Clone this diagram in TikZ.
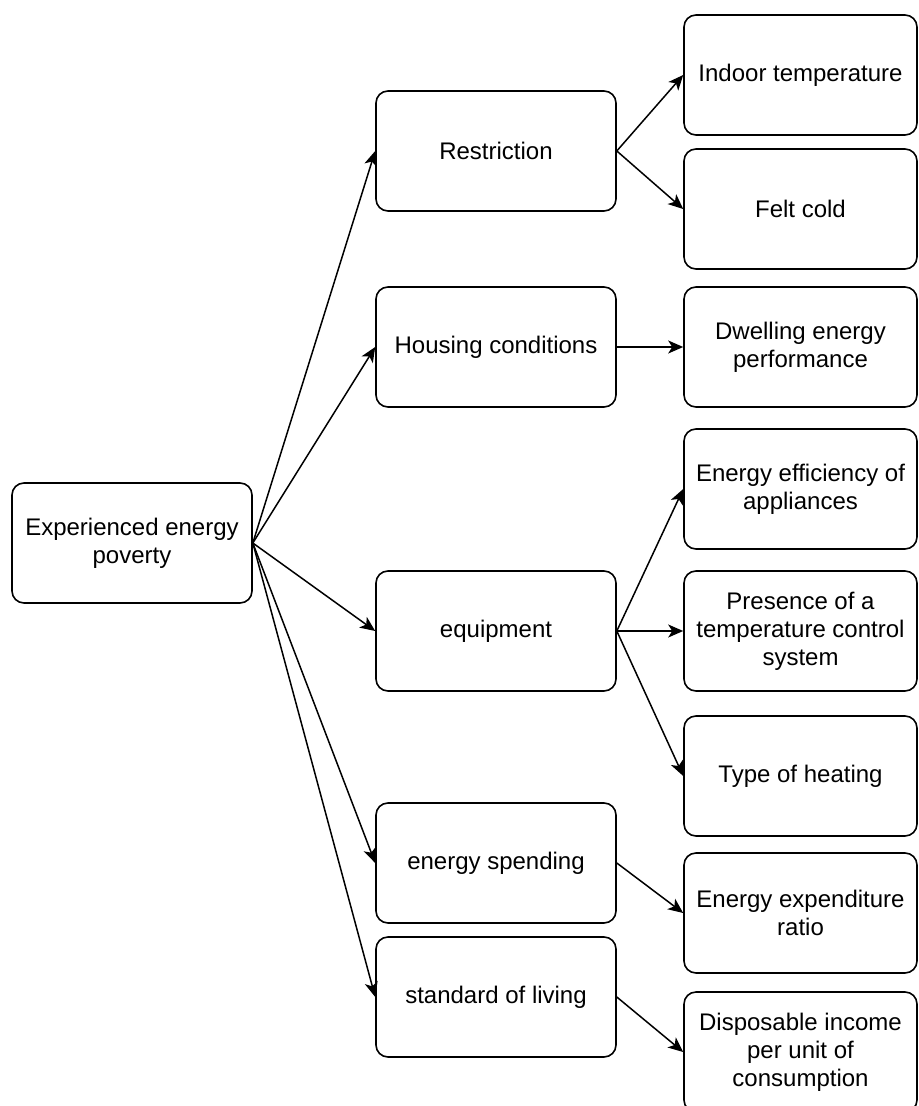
\documentclass[tikz,border=0pt]{standalone}
\usepackage{fontspec}
\setmainfont{Liberation Sans}
\usetikzlibrary{arrows.meta}

\begin{document}
\begin{tikzpicture}[x=0.5pt,y=-0.5pt,
    box/.style={draw,rounded corners=6pt,line width=0.8pt,align=center,
        minimum width=120pt,minimum height=60pt,inner sep=0pt,
        font=\fontsize{12}{14}\selectfont},
    leaf/.style={box,minimum width=116.5pt},
    link/.style={-{Stealth[length=7.5pt,width=6.5pt,inset=2pt]},line width=0.75pt}]
    \useasboundingbox (0,0) rectangle (918,1106);
    \node[box] (root) at (132,543) {Experienced energy\\poverty};
    \node[box] (restr) at (496,151) {Restriction};
    \node[box] (housing) at (496,347) {Housing conditions};
    \node[box] (equip) at (496,631) {equipment};
    \node[box] (spend) at (496,863) {energy spending};
    \node[box] (living) at (496,997) {standard of living};
    \node[leaf] (indoor) at (800.5,75) {Indoor temperature};
    \node[leaf] (cold) at (800.5,209) {Felt cold};
    \node[leaf] (dwell) at (800.5,347) {Dwelling energy\\performance};
    \node[leaf] (effic) at (800.5,489) {Energy efficiency of\\appliances};
    \node[leaf] (control) at (800.5,631) {Presence of a\\temperature control\\system};
    \node[leaf] (heating) at (800.5,776) {Type of heating};
    \node[leaf] (ratio) at (800.5,913) {Energy expenditure\\ratio};
    \node[leaf] (income) at (800.5,1052) {Disposable income\\per unit of\\consumption};
    \foreach \m in {restr,housing,equip,spend,living}
        \draw[link] (root.east) -- (\m.west);
    \draw[link] (restr.east) -- (indoor.west);
    \draw[link] (restr.east) -- (cold.west);
    \draw[link] (housing.east) -- (dwell.west);
    \draw[link] (equip.east) -- (effic.west);
    \draw[link] (equip.east) -- (control.west);
    \draw[link] (equip.east) -- (heating.west);
    \draw[link] (spend.east) -- (ratio.west);
    \draw[link] (living.east) -- (income.west);
\end{tikzpicture}
\end{document}
